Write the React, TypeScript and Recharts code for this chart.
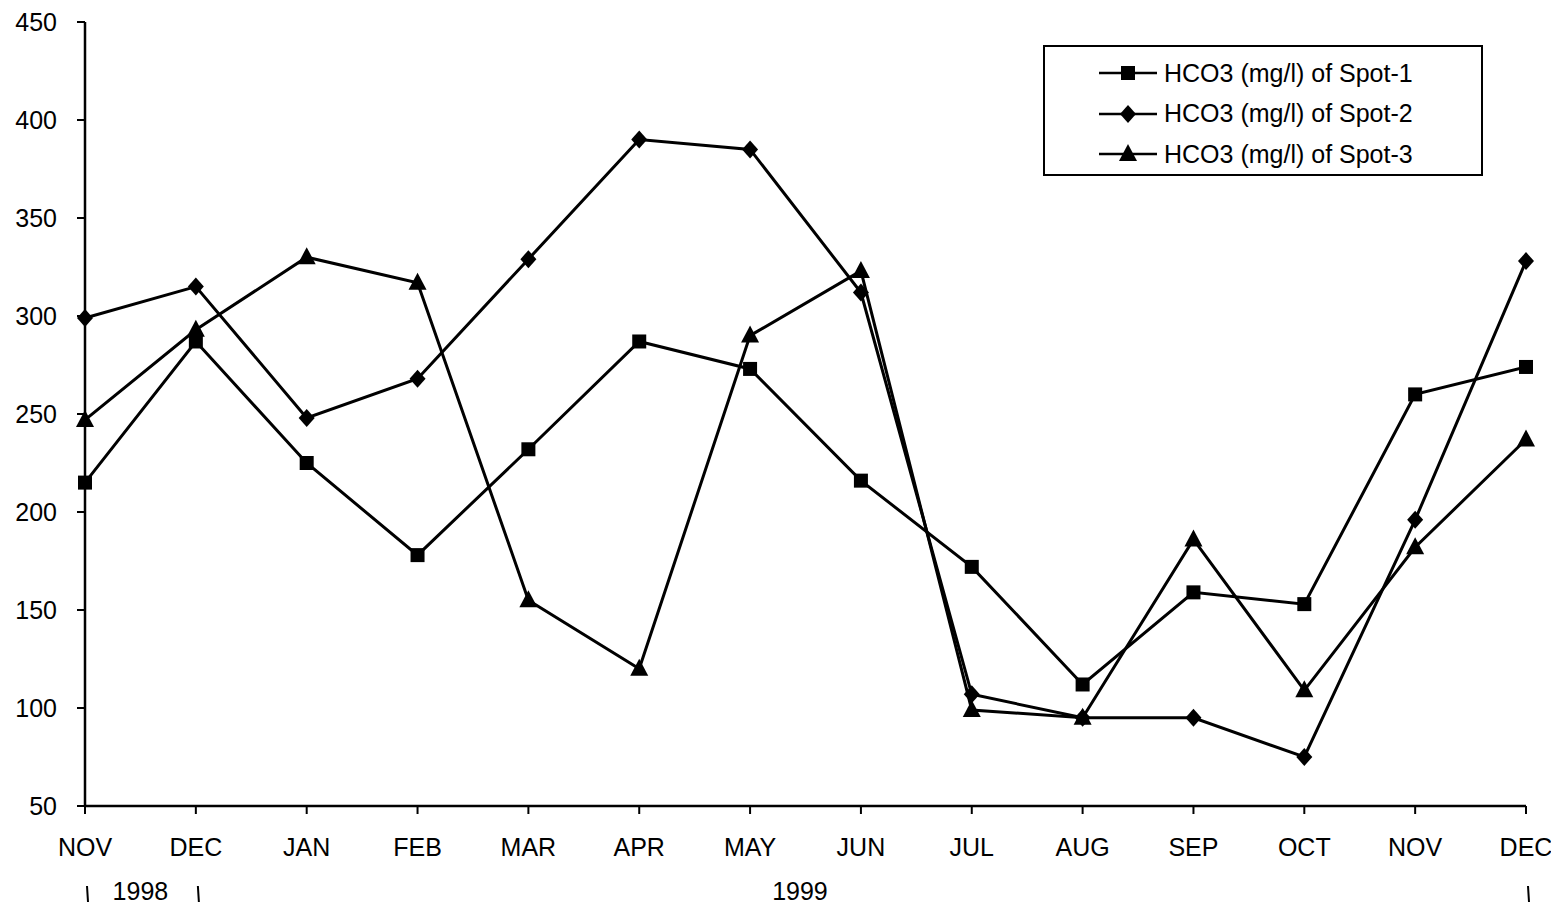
import React from "react";
import { LineChart, Line, XAxis, YAxis, Legend } from "recharts";

const months = ["NOV", "DEC", "JAN", "FEB", "MAR", "APR", "MAY", "JUN", "JUL", "AUG", "SEP", "OCT", "NOV", "DEC"];
const spot1 = [215, 287, 225, 178, 232, 287, 273, 216, 172, 112, 159, 153, 260, 274];
const spot2 = [299, 315, 248, 268, 329, 390, 385, 312, 107, 95, 95, 75, 196, 328];
const spot3 = [247, 293, 330, 317, 155, 120, 290, 323, 99, 95, 186, 109, 182, 237];
const yTicks = [50, 100, 150, 200, 250, 300, 350, 400, 450];
const minorTicks = Array.from({ length: 41 }, (_, i) => 50 + i * 10);
const yearTicks = [0, 0.5, 1, 6.45, 13];
const yearLabels: Record<string, string> = { "0.5": "1998", "6.45": "1999" };
const seriesNames = ["HCO3 (mg/l) of Spot-1", "HCO3 (mg/l) of Spot-2", "HCO3 (mg/l) of Spot-3"];

const data = months.map((m, i) => ({ idx: i, month: m, s1: spot1[i], s2: spot2[i], s3: spot3[i] }));

const FONT = "'Liberation Sans', Arial, sans-serif";

const Square = (props: any) => {
  const { cx, cy } = props;
  if (cx == null || cy == null) return null;
  return <rect x={cx - 7} y={cy - 7} width={14} height={14} fill="#000" />;
};
const Diamond = (props: any) => {
  const { cx, cy } = props;
  if (cx == null || cy == null) return null;
  return <polygon points={`${cx},${cy - 9} ${cx + 8},${cy} ${cx},${cy + 9} ${cx - 8},${cy}`} fill="#000" />;
};
const Triangle = (props: any) => {
  const { cx, cy } = props;
  if (cx == null || cy == null) return null;
  return <polygon points={`${cx},${cy - 10} ${cx + 9},${cy + 7} ${cx - 9},${cy + 7}`} fill="#000" />;
};

const YearTick = (props: any) => {
  const { x, y, payload } = props;
  const v = payload.value;
  const label = yearLabels[String(v)];
  if (label) {
    return (
      <text x={x} y={y + 36} textAnchor="middle" fontFamily={FONT} fontSize={25} fill="#000">
        {label}
      </text>
    );
  }
  return <line x1={x + 2} y1={y + 22} x2={x + 3} y2={y + 38} stroke="#000" strokeWidth={2} />;
};

const legendIcons = [Square, Diamond, Triangle];

const renderLegend = () => (
  <div
    style={{
      width: 440,
      height: 131,
      border: "2px solid #000",
      boxSizing: "border-box",
      background: "#fff",
      paddingTop: 6,
    }}
  >
    {seriesNames.map((name, i) => {
      const Icon = legendIcons[i];
      return (
        <div key={name} style={{ display: "flex", alignItems: "center", height: 40.5 }}>
          <svg width={119} height={30} style={{ flex: "none" }}>
            <line x1={54} y1={15} x2={112} y2={15} stroke="#000" strokeWidth={2.5} />
            <Icon cx={83} cy={15} />
          </svg>
          <span style={{ fontFamily: FONT, fontSize: 25, color: "#000", whiteSpace: "nowrap" }}>{name}</span>
        </div>
      );
    })}
  </div>
);

export default function App() {
  const tickStyle = { fontFamily: FONT, fontSize: 25, fill: "#000" };
  return (
    <div style={{ position: "absolute", left: 0, top: 0, width: 1551, height: 913, background: "#fff" }}>
      <LineChart width={1551} height={913} data={data} margin={{ top: 22, right: 25, left: 0, bottom: 0 }}>
        <XAxis
          dataKey="month"
          type="category"
          allowDuplicatedCategory={true}
          interval={0}
          height={50}
          tickSize={8}
          tickMargin={24}
          tick={tickStyle}
          axisLine={{ stroke: "#000", strokeWidth: 2.5 }}
          tickLine={{ stroke: "#000", strokeWidth: 2 }}
        />
        <XAxis
          xAxisId="inner"
          dataKey="month"
          type="category"
          allowDuplicatedCategory={true}
          interval={0}
          mirror
          height={0}
          tickSize={8}
          tickFormatter={() => ""}
          axisLine={false}
          tickLine={{ stroke: "#000", strokeWidth: 2 }}
        />
        <XAxis
          xAxisId="year"
          dataKey="idx"
          type="number"
          domain={[0, 13]}
          ticks={yearTicks}
          interval={0}
          height={57}
          axisLine={false}
          tickLine={false}
          tick={<YearTick />}
        />
        <XAxis
          xAxisId="top"
          orientation="top"
          dataKey="month"
          type="category"
          allowDuplicatedCategory={true}
          height={0}
          tick={false}
          tickLine={false}
          axisLine={{ stroke: "#000", strokeWidth: 2 }}
        />
        <YAxis
          domain={[50, 450]}
          ticks={yTicks}
          interval={0}
          width={85}
          tickSize={8}
          tickMargin={20}
          tick={tickStyle}
          axisLine={{ stroke: "#000", strokeWidth: 2.5 }}
          tickLine={{ stroke: "#000", strokeWidth: 2 }}
        />
        <YAxis
          yAxisId="minor"
          domain={[50, 450]}
          ticks={minorTicks}
          interval={0}
          mirror
          width={0}
          tickSize={7}
          tickFormatter={() => ""}
          axisLine={false}
          tickLine={{ stroke: "#000", strokeWidth: 2 }}
        />
        <YAxis
          yAxisId="right"
          orientation="right"
          domain={[50, 450]}
          width={0}
          tick={false}
          tickLine={false}
          axisLine={{ stroke: "#000", strokeWidth: 2 }}
        />
        <Legend
          layout="vertical"
          align="center"
          verticalAlign="middle"
          content={renderLegend}
          wrapperStyle={{ position: "absolute", left: 1043, top: 45, width: 440, height: 131 }}
        />
        <Line dataKey="s1" name={seriesNames[0]} stroke="#000" strokeWidth={3} dot={<Square />} activeDot={false} isAnimationActive={false} />
        <Line dataKey="s2" name={seriesNames[1]} stroke="#000" strokeWidth={3} dot={<Diamond />} activeDot={false} isAnimationActive={false} />
        <Line dataKey="s3" name={seriesNames[2]} stroke="#000" strokeWidth={3} dot={<Triangle />} activeDot={false} isAnimationActive={false} />
      </LineChart>
    </div>
  );
}
